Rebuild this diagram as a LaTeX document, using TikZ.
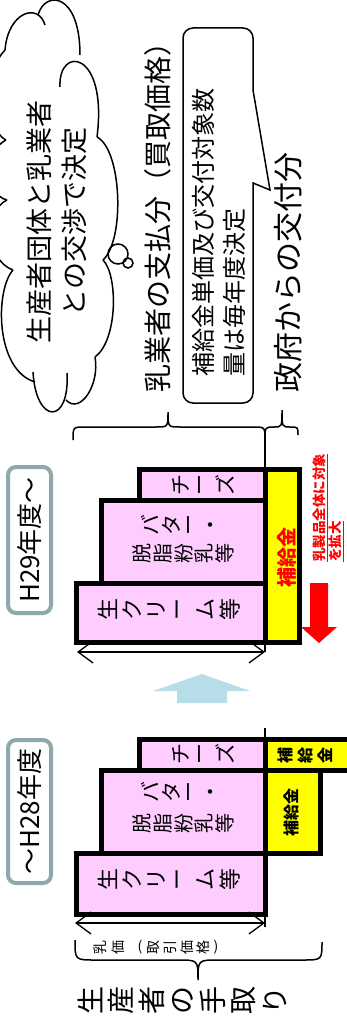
\documentclass[tikz,border=0pt]{standalone}
\usepackage{fontspec}
\setmainfont{Noto Sans CJK JP}
\usetikzlibrary{arrows.meta}
\definecolor{pk}{HTML}{FFCCFF}
\definecolor{yl}{HTML}{FFFF00}
\definecolor{lblue}{HTML}{B7DEE8}
\definecolor{tealgray}{HTML}{8FA9AB}
\newcommand\vchars[6]{\foreach \ch [count=\i from 0] in {#6}{\node[vch,font=#5] (#1\i) at ({#2+\i*#3},#4) {\ch};}}
\begin{document}
\begin{tikzpicture}[x=1pt,y=-1pt,
  cl/.style={line width=1.5pt},
  bar/.style={draw=black,line width=5pt,fill=pk},
  sub/.style={draw=black,line width=5pt,fill=yl},
  vch/.style={rotate=90,inner sep=0pt},
  rt/.style={rotate=90,inner sep=0pt},
  brc/.style={line width=1.5pt},
  lblbox/.style={rotate=90,draw=tealgray,line width=4pt,rounded corners=8pt,inner sep=0pt,font=\fontsize{26}{26}\selectfont},
  dbl/.style={line width=1.3pt,{Straight Barb[length=15pt,width=22pt]}-{Straight Barb[length=15pt,width=22pt]}}
]
\useasboundingbox (0,0) rectangle (347,1024);
\clip (0,0) rectangle (347,1024);
\fill[white] (0,0) rectangle (347,1024);

% ---- cloud ----
\draw[cl] (5,50) .. controls (8,12) and (38,2) .. (45,25);
\draw[cl] (38,15) .. controls (45,-10) and (80,-8) .. (80,55);
\draw[cl] (60,87) .. controls (58,45) and (108,50) .. (97,137);
\draw[cl] (97,137) .. controls (122,150) and (125,240) .. (103,260);
\draw[cl] (103,260) .. controls (118,275) and (118,340) .. (95,357);
\draw[cl] (95,357) .. controls (100,385) and (80,415) .. (66,400);
\draw[cl] (33,372) .. controls (36,425) and (70,425) .. (67,373);
\draw[cl] (13,270) .. controls (-5,290) and (-5,370) .. (35,382);
\draw[cl] (7,200) .. controls (-15,210) and (-15,260) .. (13,270);
\draw[cl] (6,140) .. controls (-15,150) and (-15,195) .. (7,200);
\draw[cl] (5,50) .. controls (-15,70) and (-15,130) .. (6,140);
\draw[cl] (118,254) circle (10pt);
\draw[cl] (128,263) circle (5pt);
\node[rt,font=\fontsize{27}{35}\selectfont,align=center] (cloudtext) at (57,222) {生産者団体と乳業者\\との交渉で決定};

% ---- upper texts ----
\node[rt,font=\fontsize{28}{28}\selectfont] (dairy) at (158,210) {乳業者の支払分（買取価格）};
\node[draw,line width=1.5pt,rounded corners=10pt,minimum width=70pt,minimum height=375pt,inner sep=0pt,fill=white] (callout) at (218,215.5) {};
\coordinate (tailA) at (253,90);
\coordinate (tailTip) at (270,190);
\coordinate (tailB) at (253,183);
\fill[white] (251.5,91) -- (254.5,91) -- (tailTip) -- (254.5,182) -- (251.5,182) -- cycle;
\draw[cl] (tailA) -- (tailTip) -- (tailB);
\node[rt,anchor=north west,align=left,font=\fontsize{24}{31}\selectfont] (calltext) at (192,377) {補給金単価及び交付対象数\\量は毎年度決定};
\node[rt,font=\fontsize{30}{30}\selectfont] (gov) at (288,272) {政府からの交付分};

% ---- braces ----
\draw[brc] (73,440) .. controls (73,427) .. (85,427) -- (156,427) .. controls (168,427) .. (168,412) .. controls (168,427) .. (180,427) -- (253,427) .. controls (265,427) .. (265,440);
\draw[brc] (265,440) .. controls (265,427) .. (274,427) .. controls (282,427) .. (282,410) .. controls (282,427) .. (290,427) .. controls (298,427) .. (298,435);

% ---- labels ----
\node[lblbox,minimum width=146pt,minimum height=43pt] (h29) at (29.5,540) {H29年度～};
\node[lblbox,minimum width=143pt,minimum height=43pt] (h28) at (29.5,811.5) {～H28年度};

% ---- H29 bars ----
\path[bar] (76.5,583.5) rectangle (265,642.5);
\path[bar] (101.5,500.5) rectangle (265,583.5);
\path[bar] (139.5,469.5) rectangle (265,500.5);
\path[sub] (265,469.5) rectangle (299.5,642.5);
\draw[line width=2.5pt] (265,433) -- (265,652);
\vchars{a}{181}{22}{485}{\fontsize{21}{21}\selectfont}{チ,ー,ズ}
\vchars{b}{150}{21}{525}{\fontsize{21}{21}\selectfont}{バ,タ,ー,・}
\vchars{c}{142}{20.75}{553}{\fontsize{20}{20}\selectfont}{脱,脂,粉,乳,等}
\vchars{d}{108}{24.4}{609}{\fontsize{22}{22}\selectfont}{生,ク,リ,ー,ム,等}
\node[rt,text=red,font=\bfseries\fontsize{20}{20}\selectfont] (sub29) at (287,557) {補給金};
\node[rt,anchor=north west,align=left,text=red,font=\bfseries\fontsize{13.5}{13.5}\selectfont] (note) at (313,562) {\underline{乳製品全体に対象}\\\underline{を拡大}};
\fill[red] (310,583) -- (328,583) -- (328,627) -- (337,627) -- (319,643) -- (301,627) -- (310,627) -- cycle;
\coordinate (a29l) at (77,652);
\coordinate (a29r) at (265,652);
\draw[dbl] (a29l) -- (a29r);

% ---- blue arrow ----
\fill[lblue] (177,703) -- (177,691) -- (153,691) -- (202,674) -- (250,691) -- (227,691) -- (227,703) -- cycle;

% ---- H28 bars ----
\path[bar] (76.5,853.5) rectangle (265,914.5);
\path[bar] (101.5,770.5) rectangle (265,853.5);
\path[bar] (139.5,739.5) rectangle (265,770.5);
\path[sub] (265,770.5) rectangle (320.5,853.5);
\path[sub] (265,739.5) rectangle (360,770.5);
\draw[line width=2.5pt] (265,728) -- (265,927);
\vchars{e}{181}{22}{754}{\fontsize{21}{21}\selectfont}{チ,ー,ズ}
\vchars{f}{150}{21}{792}{\fontsize{21}{21}\selectfont}{バ,タ,ー,・}
\vchars{g}{142}{20.75}{823}{\fontsize{20}{20}\selectfont}{脱,脂,粉,乳,等}
\vchars{h}{108}{24.4}{879}{\fontsize{22}{22}\selectfont}{生,ク,リ,ー,ム,等}
\node[rt,font=\bfseries\fontsize{16}{16}\selectfont] (sub28a) at (291,812) {補給金};
\vchars{k}{285}{20}{755}{\bfseries\fontsize{16}{16}\selectfont}{補,給,金}
\coordinate (a28l) at (75,923);
\coordinate (a28r) at (265,923);
\draw[dbl] (a28l) -- (a28r);

% ---- lower brace and texts ----
\draw[brc] (75,940) .. controls (75,960) .. (95,960) -- (178,960) .. controls (198,960) .. (198,980) .. controls (198,960) .. (218,960) -- (302,960) .. controls (322,960) .. (322,942);
\vchars{m}{100}{18}{947}{\fontsize{14}{14}\selectfont}{乳,価}
\node[inner sep=0pt,font=\fontsize{14}{14}\selectfont] (lp) at (140,947) {(};
\vchars{n}{154}{16.5}{947}{\fontsize{14}{14}\selectfont}{取,引,価,格}
\node[inner sep=0pt,font=\fontsize{14}{14}\selectfont] (rp) at (216,947) {)};
\vchars{p}{90}{30.8}{1000}{\fontsize{28}{28}\selectfont}{生,産,者,の,手,取,り}
\end{tikzpicture}
\end{document}
